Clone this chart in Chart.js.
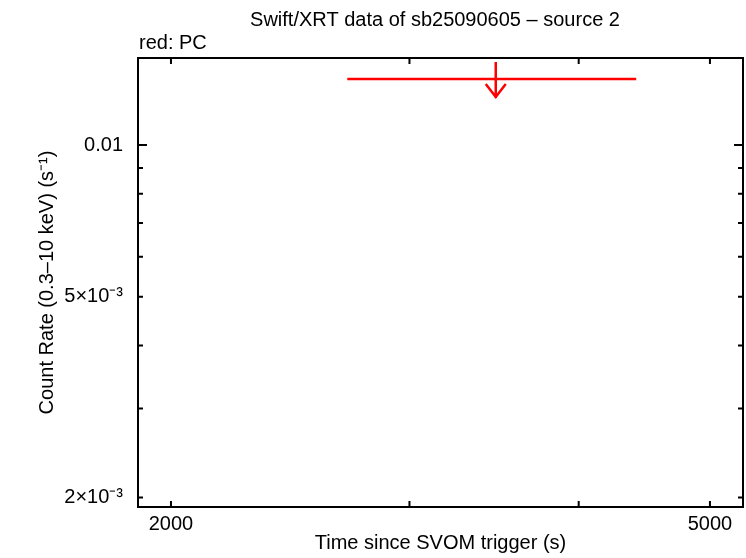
<!DOCTYPE html>
<html>
<head>
<meta charset="utf-8">
<script src="https://cdn.jsdelivr.net/npm/chart.js@4/dist/chart.umd.min.js"></script>
<style>
  html, body { margin: 0; padding: 0; background: #fff; }
  #wrap { position: relative; width: 746px; height: 558px; }
</style>
</head>
<body>
<div id="wrap"><canvas id="c" width="746" height="558"></canvas></div>
<script>
// Данные
const pcTime = [3474];          // центр бина, с
const pcTimeLo = [2699];        // левая граница бина
const pcTimeHi = [4411];        // правая граница бина
const pcRate = [0.01352];       // верхний предел, отсч/с

const xRange = [1891, 5289];
const yRange = [0.001914, 0.01488];

const xTickValues = [2000, 3000, 4000, 5000];
const xTickLabels = ['2000', '', '', '5000'];
const yTickValues = [0.002, 0.003, 0.004, 0.005, 0.006, 0.007, 0.008, 0.009, 0.01];
const yTickLabels = ['2\u00d710\u207b\u00b3', '', '', '5\u00d710\u207b\u00b3', '', '', '', '', '0.01'];
const yMajor = [0.01];

const FONT = '"Liberation Sans", Arial, Helvetica, sans-serif';
const FS = 20;

// Рамка, внутренние засечки и стрелка верхнего предела
const framePlugin = {
  id: 'frame',
  afterDatasetsDraw(chart) {
    const { ctx, chartArea: a, scales } = chart;
    const xs = scales.x, ys = scales.y;
    ctx.save();
    ctx.strokeStyle = '#000';
    ctx.lineWidth = 2;
    ctx.strokeRect(a.left, a.top, a.right - a.left, a.bottom - a.top);

    ctx.beginPath();
    xTickValues.forEach(v => {
      const px = xs.getPixelForValue(v);
      ctx.moveTo(px, a.bottom); ctx.lineTo(px, a.bottom - 6);
      ctx.moveTo(px, a.top); ctx.lineTo(px, a.top + 6);
    });
    yTickValues.forEach(v => {
      const py = ys.getPixelForValue(v);
      const len = yMajor.includes(v) ? 9 : 5;
      ctx.moveTo(a.left, py); ctx.lineTo(a.left + len, py);
      ctx.moveTo(a.right, py); ctx.lineTo(a.right - len, py);
    });
    ctx.stroke();

    // верхний предел PC
    ctx.strokeStyle = '#ff0000';
    ctx.lineWidth = 2.5;
    for (let i = 0; i < pcTime.length; i++) {
      const x0 = xs.getPixelForValue(pcTimeLo[i]);
      const x1 = xs.getPixelForValue(pcTimeHi[i]);
      const xc = xs.getPixelForValue(pcTime[i]);
      const yc = ys.getPixelForValue(pcRate[i]);
      ctx.beginPath();
      ctx.moveTo(x0, yc); ctx.lineTo(x1, yc);
      ctx.moveTo(xc, yc - 17); ctx.lineTo(xc, yc + 19);
      ctx.moveTo(xc - 10, yc + 5); ctx.lineTo(xc, yc + 18); ctx.lineTo(xc + 10, yc + 5);
      ctx.stroke();
    }

    // подписи
    ctx.fillStyle = '#000';
    ctx.font = FS + 'px ' + FONT;
    ctx.textAlign = 'center';
    ctx.textBaseline = 'alphabetic';
    ctx.fillText('Swift/XRT data of sb25090605 \u2013 source 2', 435, 26);
    ctx.textAlign = 'left';
    ctx.fillText('red: PC', 139, 49);
    ctx.restore();
  }
};

new Chart(document.getElementById('c'), {
  type: 'scatter',
  data: {
    datasets: [{
      label: 'PC',
      data: pcTime.map((t, i) => ({ x: t, y: pcRate[i] })),
      pointRadius: 0,
      borderColor: '#ff0000'
    }]
  },
  options: {
    responsive: false,
    animation: false,
    layout: { padding: { left: 0, top: 58, right: 3, bottom: 0 } },
    plugins: { legend: { display: false }, tooltip: { enabled: false } },
    scales: {
      x: {
        type: 'logarithmic',
        min: xRange[0], max: xRange[1],
        afterBuildTicks: s => { s.ticks = xTickValues.map(v => ({ value: v })); },
        afterFit: s => { s.height = 51; },
        border: { display: false },
        grid: { display: true, drawOnChartArea: false, drawTicks: false },
        ticks: {
          autoSkip: false, maxRotation: 0, padding: 5, color: '#000',
          font: { family: FONT, size: FS },
          callback: (v, i) => xTickLabels[i]
        },
        title: {
          display: true, text: 'Time since SVOM trigger (s)', color: '#000',
          font: { family: FONT, size: FS }, padding: { top: 2, bottom: 3 }
        }
      },
      y: {
        type: 'logarithmic',
        min: yRange[0], max: yRange[1],
        afterBuildTicks: s => { s.ticks = yTickValues.map(v => ({ value: v })); },
        afterFit: s => { s.width = 138; },
        border: { display: false },
        grid: { display: true, drawOnChartArea: false, drawTicks: false },
        ticks: {
          autoSkip: false, padding: 15, color: '#000',
          font: { family: FONT, size: FS },
          callback: (v, i) => yTickLabels[i]
        },
        title: {
          display: true, text: 'Count Rate (0.3\u201310 keV) (s\u207b\u00b9)', color: '#000',
          font: { family: FONT, size: FS }, padding: { top: 35, bottom: 0 }
        }
      }
    }
  },
  plugins: [framePlugin]
});
</script>
</body>
</html>
